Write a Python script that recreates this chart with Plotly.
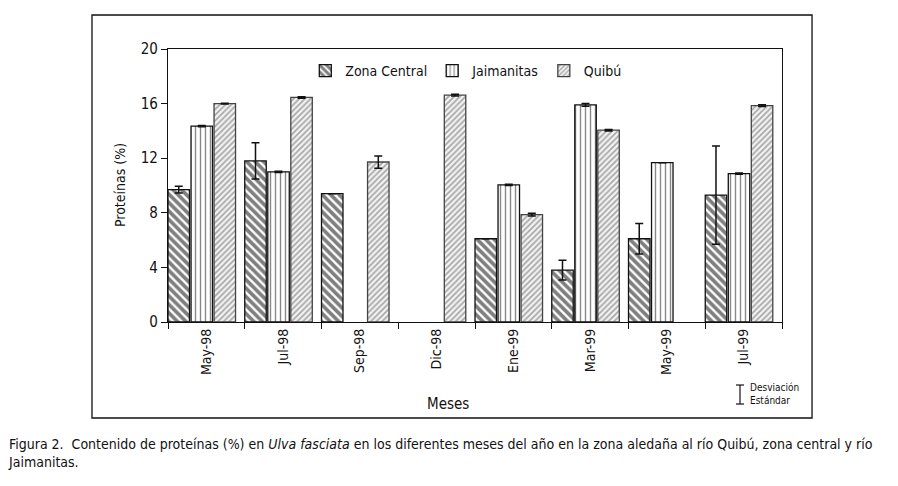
import plotly.graph_objects as go

months = ["May-98", "Jul-98", "Sep-98", "Dic-98", "Ene-99", "Mar-99", "May-99", "Jul-99"]

zona_central = [9.7, 11.8, 9.4, None, 6.1, 3.8, 6.1, 9.3]
zona_central_sd = [0.25, 1.33, 0.0, 0.0, 0.0, 0.73, 1.12, 3.6]

jaimanitas = [14.35, 11.0, None, None, 10.05, 15.9, 11.67, 10.87]
jaimanitas_sd = [0.05, 0.05, 0.0, 0.0, 0.05, 0.1, 0.0, 0.05]

quibu = [16.0, 16.45, 11.72, 16.62, 7.86, 14.05, None, 15.85]
quibu_sd = [0.03, 0.05, 0.45, 0.06, 0.1, 0.05, 0.0, 0.07]

y_ticks = [0, 4, 8, 12, 16, 20]

FONT = "Liberation Sans Narrow, DejaVu Sans Condensed, Roboto Condensed, Arial Narrow, sans-serif"
INK = "#111111"

series = [
    ("Zona Central", zona_central, zona_central_sd,
     dict(shape="\\", fgcolor="#000000", bgcolor="#ffffff", size=6, solidity=0.62), "#111111", -0.5),
    ("Jaimanitas", jaimanitas, jaimanitas_sd,
     dict(shape="|", fgcolor="#111111", bgcolor="#ffffff", size=5, solidity=0.28), "#111111", -0.2),
    ("Quibú", quibu, quibu_sd,
     dict(shape="/", fgcolor="#555555", bgcolor="#f2f2f2", size=4, solidity=0.4), "#444444", 0.1),
]

fig = go.Figure()
for name, vals, sd, pat, line_c, off in series:
    fig.add_trace(go.Bar(
        name=name, x=months, y=vals,
        offset=off, width=0.28,
        marker=dict(color=pat["bgcolor"], pattern=pat, line=dict(color=line_c, width=1.3)),
        error_y=dict(type="data", array=sd, visible=True, color="#111111", thickness=1.5, width=4),
    ))

fig.update_layout(
    width=898, height=486,
    margin=dict(l=160, r=124, t=41, b=172),
    paper_bgcolor="white", plot_bgcolor="white",
    barmode="overlay",
    font=dict(family=FONT, size=14, color=INK),
    showlegend=True,
    legend=dict(orientation="h", x=0.485, xanchor="center", y=0.919, yanchor="middle",
                font=dict(family=FONT, size=14, color=INK), bgcolor="rgba(0,0,0,0)",
                itemwidth=30, traceorder="normal"),
    xaxis=dict(type="category", range=[-0.5, 7.5], tickson="boundaries",
               ticks="outside", ticklen=6, tickcolor=INK, tickwidth=1,
               tickangle=-90, showline=True, linecolor=INK, linewidth=1.2, mirror=True,
               showgrid=False, tickfont=dict(family=FONT, size=14, color=INK)),
    yaxis=dict(range=[0, 20], tickvals=y_ticks, ticks="outside", ticklen=6, tickcolor=INK,
               showline=True, linecolor=INK, linewidth=1.2, mirror=True, showgrid=False,
               zeroline=False, tickfont=dict(family=FONT, size=15, color=INK)),
)

# outer frame
fig.add_shape(type="rect", xref="paper", yref="paper",
              x0=-0.1238, x1=1.0489, y0=-0.3516, y1=1.1245,
              line=dict(color=INK, width=1.3), fillcolor="rgba(0,0,0,0)", layer="below")

# axis titles
fig.add_annotation(text="Proteínas (%)", xref="paper", yref="paper", x=-0.078, y=0.502,
                   xanchor="center", yanchor="middle",
                   textangle=-90, showarrow=False, font=dict(family=FONT, size=14, color=INK))
fig.add_annotation(text="Meses", xref="paper", yref="paper", x=0.456, y=-0.300,
                   xanchor="center", yanchor="middle",
                   showarrow=False, font=dict(family=FONT, size=15, color=INK))

# standard deviation key
xc, yt, yb, cw = 0.9316, -0.2308, -0.3004, 0.0065
for sh in [dict(x0=xc, x1=xc, y0=yb, y1=yt), dict(x0=xc - cw, x1=xc + cw, y0=yt, y1=yt),
           dict(x0=xc - cw, x1=xc + cw, y0=yb, y1=yb)]:
    fig.add_shape(type="line", xref="paper", yref="paper", line=dict(color=INK, width=1.2), **sh)
fig.add_annotation(text="Desviación<br>Estándar", xref="paper", yref="paper",
                   x=0.945, y=-0.265, xanchor="left", yanchor="middle", align="left",
                   showarrow=False, font=dict(family=FONT, size=10, color=INK))

# caption
fig.add_annotation(
    text="Figura 2.  Contenido de proteínas (%) en <i>Ulva fasciata</i> en los diferentes meses del año en la zona aledaña al río Quibú, zona central y río<br>Jaimanitas.",
    xref="paper", yref="paper", x=-0.264, y=-0.41, xanchor="left", yanchor="top", align="left",
    showarrow=False, font=dict(family=FONT, size=14, color=INK))

fig.write_html("out.html")
